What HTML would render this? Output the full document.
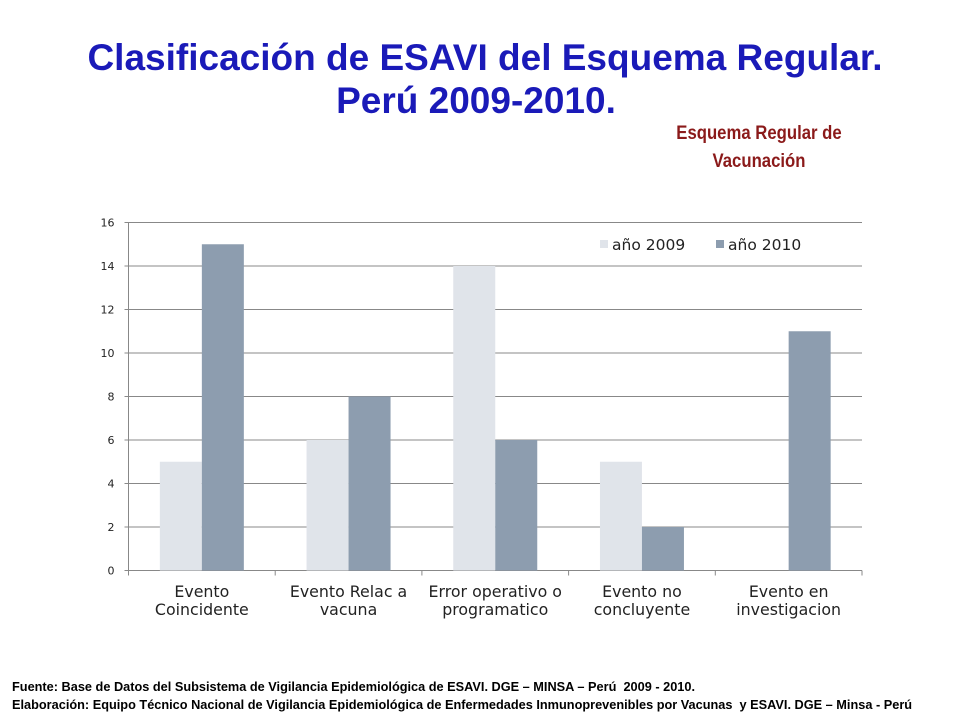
<!DOCTYPE html>
<html><head><meta charset="utf-8"><style>
body{margin:0;width:960px;height:720px;background:#fff;overflow:hidden;position:relative;font-family:"Liberation Sans",sans-serif}
.t{position:absolute;left:0;width:960px;text-align:center;color:#1a1ab8;font-weight:bold;font-size:37px;line-height:42px}
.sub{position:absolute;left:659px;width:200px;text-align:center;color:#8b1a1a;font-weight:bold;font-size:19px;line-height:28px;top:120px;transform:scaleX(0.88)}
.f{position:absolute;left:12px;font-weight:bold;font-size:13px;white-space:nowrap;transform-origin:left top;transform:scaleX(0.98)}
</style></head><body>
<div class="t" style="top:37px;left:5px">Clasificación de ESAVI del Esquema Regular.</div>
<div class="t" style="top:80px;left:-4px">Perú 2009-2010.</div>
<div class="sub">Esquema Regular de Vacunación</div>
<svg id="chart" width="960" height="720" style="position:absolute;left:0;top:0"></svg>
<div class="f" style="top:679px">Fuente: Base de Datos del Subsistema de Vigilancia Epidemiológica de ESAVI. DGE – MINSA – Perú &nbsp;2009 - 2010.</div>
<div class="f" style="top:697px">Elaboración: Equipo Técnico Nacional de Vigilancia Epidemiológica de Enfermedades Inmunoprevenibles por Vacunas &nbsp;y ESAVI. DGE – Minsa - Perú</div>
<script>
const categories=[["Evento","Coincidente"],["Evento Relac a","vacuna"],["Error operativo o","programatico"],["Evento no","concluyente"],["Evento en","investigacion"]];
const values2009=[5,6,14,5,0];
const values2010=[15,8,6,2,11];
const yTicks=[0,2,4,6,8,10,12,14,16];
const seriesNames=["año 2009","año 2010"];
const svg=document.getElementById('chart');const NS='http://www.w3.org/2000/svg';
const X0=128.5,X1=862,Y0=570.5,YT=222.5,ymax=16;
const y=v=>Y0-(Y0-YT)*v/ymax;
const cw=(X1-X0)/categories.length;
const xc=i=>X0+cw*(i+0.5);
function mk(t,a){const e=document.createElementNS(NS,t);for(const k in a)e.setAttribute(k,a[k]);svg.appendChild(e);return e;}
yTicks.forEach(v=>{
 const l=mk('line',{x1:X0-4,x2:X1,y1:y(v),y2:y(v),stroke:'#888','stroke-width':1});
 
 
 const t=mk('text',{x:X0-14,y:y(v)+4,'text-anchor':'end','font-size':11,fill:'#222','font-family':'DejaVu Sans,sans-serif'});t.textContent=v;
 
 
});
const ax=mk('line',{x1:X0,x2:X0,y1:YT,y2:Y0+4,stroke:'#888'});


const bw=42;
const cols=['#e0e4ea','#8d9daf'];
[values2009,values2010].forEach((arr,s)=>arr.forEach((v,i)=>{
 const r=mk('rect',{x:xc(i)-bw+s*bw,y:y(v),width:bw,height:Y0-y(v),fill:cols[s]});
 
 
}));
for(let i=0;i<=categories.length;i++){const l=mk('line',{x1:X0+cw*i,x2:X0+cw*i,y1:Y0,y2:Y0+5,stroke:'#888'});
 
 }
categories.forEach((c,i)=>c.forEach((s,j)=>{
 const t=mk('text',{x:xc(i),y:597+j*18,'text-anchor':'middle','font-size':15.8,fill:'#222','font-family':'DejaVu Sans,sans-serif'});t.textContent=s;
 
 
}));
seriesNames.forEach((n,s)=>{
 const lx=600+s*116;
 const r=mk('rect',{x:lx,y:240,width:8,height:8,fill:cols[s]});
 
 
 const t=mk('text',{x:lx+12,y:250,'font-size':15.5,fill:'#222','font-family':'DejaVu Sans,sans-serif'});t.textContent=n;
 
 
});
</script>
</body></html>
